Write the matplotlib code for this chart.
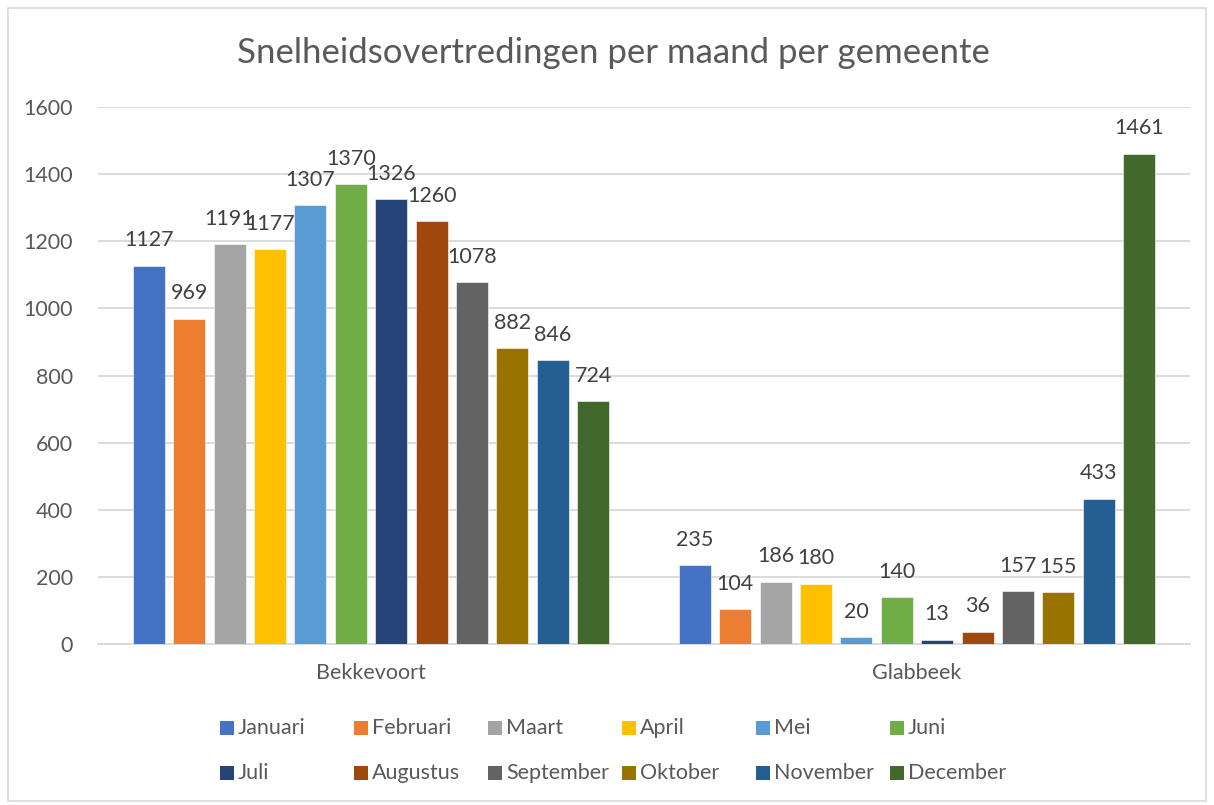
import numpy as np
import matplotlib.pyplot as plt
from matplotlib.patches import Rectangle

plt.rcParams['font.family'] = ['Lato', 'DejaVu Sans']

gemeenten = ['Bekkevoort', 'Glabbeek']
maanden = ['Januari', 'Februari', 'Maart', 'April', 'Mei', 'Juni',
           'Juli', 'Augustus', 'September', 'Oktober', 'November', 'December']
bekkevoort = [1127, 969, 1191, 1177, 1307, 1370, 1326, 1260, 1078, 882, 846, 724]
glabbeek = [235, 104, 186, 180, 20, 140, 13, 36, 157, 155, 433, 1461]
kleuren = ['#4472C4', '#ED7D31', '#A5A5A5', '#FFC000', '#5B9BD5', '#70AD47',
           '#264478', '#9E480E', '#636363', '#997300', '#255E91', '#43682B']
yticks = [0, 200, 400, 600, 800, 1000, 1200, 1400, 1600]

tekst = '#595959'
raster = '#D9D9D9'
fs = 15.5

W, H = 1214, 805
fig = plt.figure(figsize=(W / 100, H / 100), dpi=100)
ax = fig.add_axes([98 / W, 1 - 644 / H, (1190 - 98) / W, (644 - 107) / H])

# chart border
fig.patches.append(Rectangle((8 / W, 4 / H), 1 - 16 / W, 1 - 12 / H,
                             transform=fig.transFigure, fill=False,
                             edgecolor=raster, linewidth=1.2))

x = np.arange(len(gemeenten))
pitch = 0.074
breedte = 0.0586
waarden = np.array([bekkevoort, glabbeek])

for j, maand in enumerate(maanden):
    pos = x + (j - 5.5) * pitch
    bars = ax.bar(pos, waarden[:, j], width=breedte, color=kleuren[j],
                  edgecolor='white', linewidth=0.4, zorder=3, label=maand)
    for b, v in zip(bars, waarden[:, j]):
        ax.annotate(str(v), (b.get_x() + b.get_width() / 2, v),
                    xytext=(0, 14), textcoords='offset points',
                    ha='center', va='baseline', fontsize=fs, color='#404040')

ax.set_xlim(-0.5, 1.5)
ax.set_ylim(0, 1600)
ax.set_yticks(yticks)
ax.set_xticks(x)
ax.set_xticklabels(gemeenten, fontsize=fs, color=tekst)
ax.tick_params(axis='y', length=0, pad=18, labelsize=fs, labelcolor=tekst)
ax.tick_params(axis='x', length=0, pad=14)
ax.yaxis.grid(True, color=raster, linewidth=1.3, zorder=0)
for s in ['top', 'right', 'left']:
    ax.spines[s].set_visible(False)
ax.spines['bottom'].set_color(raster)
ax.spines['bottom'].set_linewidth(1.3)

fig.text(613 / W, 1 - 63 / H, 'Snelheidsovertredingen per maand per gemeente',
         ha='center', va='baseline', fontsize=25, color=tekst)

# legend, two rows of six equal-width columns
for j, maand in enumerate(maanden):
    kol, rij = j % 6, j // 6
    lx = 220 + kol * 134
    ly = 728 + rij * 45
    fig.patches.append(Rectangle((lx / W, 1 - (ly + 7) / H), 14 / W, 14 / H,
                                 transform=fig.transFigure,
                                 facecolor=kleuren[j], edgecolor='none'))
    fig.text((lx + 18) / W, 1 - (ly + 6) / H, maand, ha='left', va='baseline',
             fontsize=fs, color=tekst)

fig.savefig('out.png', dpi=100)
